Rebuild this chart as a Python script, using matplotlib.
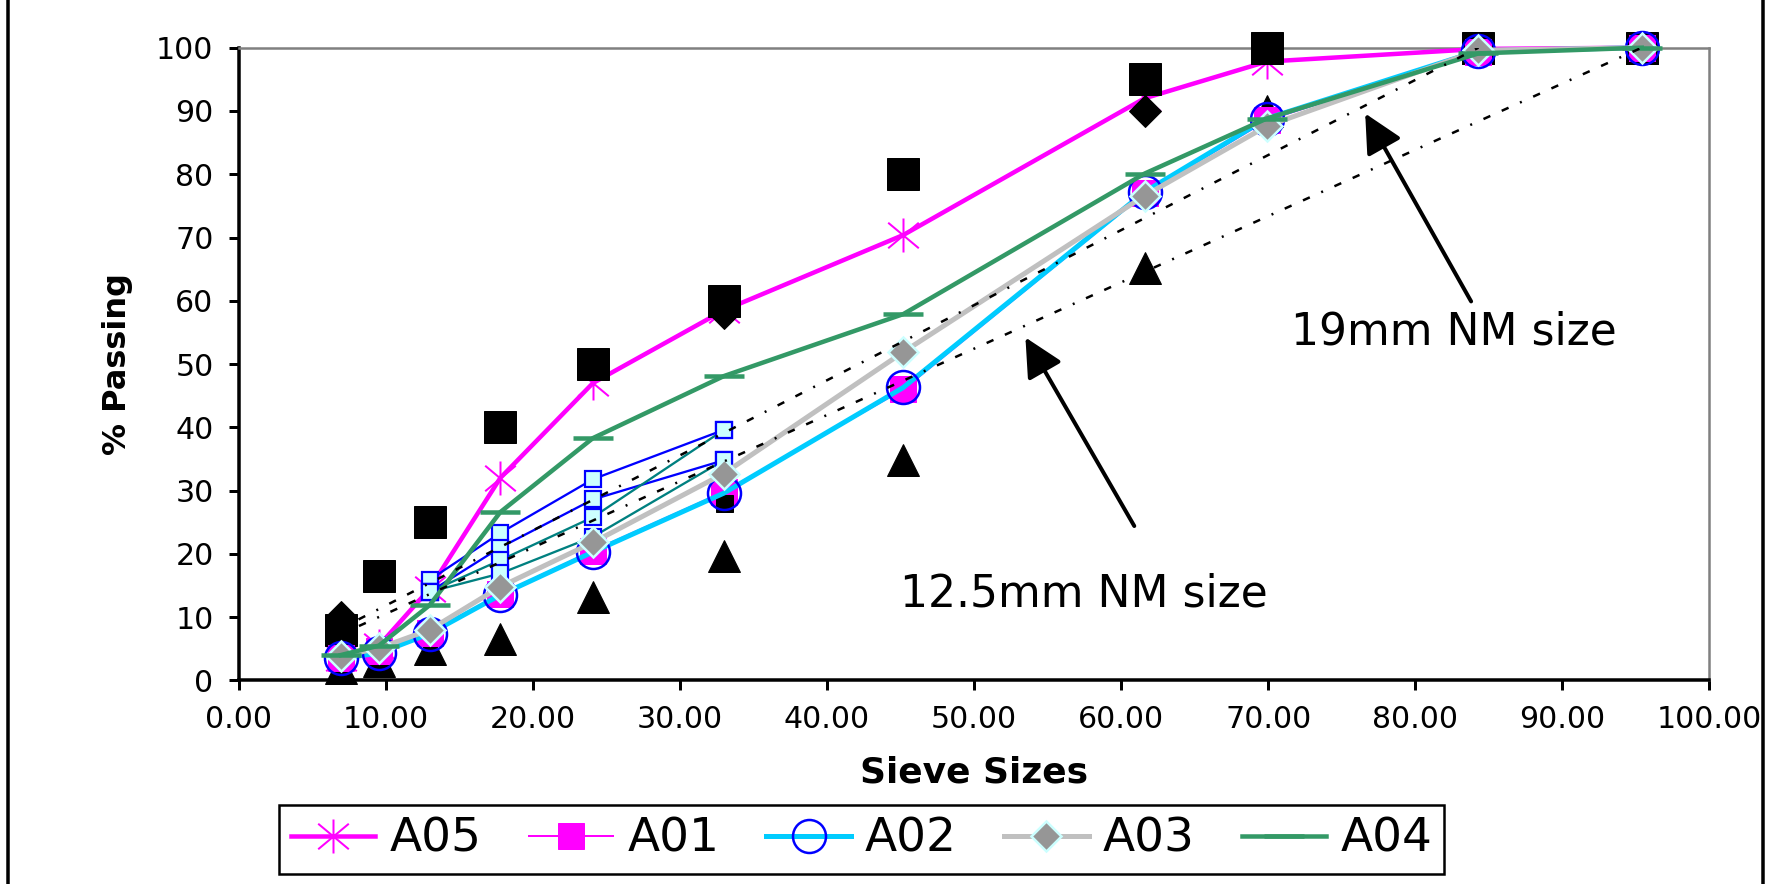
import matplotlib
matplotlib.use("Agg")
import matplotlib.pyplot as plt
from matplotlib.path import Path
from matplotlib.lines import Line2D

# sieve positions on the 0.45-power x axis
sieve_x = [6.95, 9.55, 13.0, 17.8, 24.1, 33.0, 45.2, 61.6, 69.9, 84.3, 95.4]

# gradations (% passing)
a05 = [3.5, 5.5, 14.5, 32.0, 47.0, 58.5, 70.4, 92.0, 97.8, 99.8, 100]
a01 = [3.6, 4.6, 7.5, 13.6, 20.5, 29.8, 46.0, 77.0, 88.5, 99.3, 100]
a02 = [3.5, 4.3, 7.4, 13.5, 20.3, 29.6, 46.3, 77.2, 88.8, 99.5, 100]
a03 = [3.8, 5.1, 8.0, 14.8, 21.8, 32.7, 51.9, 76.6, 87.6, 99.6, 100]
a04 = [4.0, 5.5, 11.9, 26.6, 38.3, 48.1, 57.9, 80.1, 88.8, 99.1, 100]

# specification band limits
spec_upper = [8, 16.5, 25, 40, 50, 60, 80, 95, 100, 100, 100]
spec_lower = [2, 3, 5, 6.6, 13.2, 19.7, 34.8, 65.2, 90, 100, 100]

# control points
ctrl_hi_x = [6.95, 33.0, 61.6]
ctrl_hi = [10, 58, 90]
ctrl_lo_x = [33.0]
ctrl_lo = [28]

# restricted zones
rz_x = [13.0, 17.8, 24.1, 33.0]
rz1_hi = [15.9, 23.3, 31.8, 39.6]
rz1_lo = [14.0, 19.0, 25.8, 39.6]
rz2_hi = [14.0, 21.0, 28.6, 34.8]
rz2_lo = [14.0, 16.9, 22.7, 34.8]

# maximum density lines
mdl_125_x = [6.95, 84.3]
mdl_125 = [8.2, 100]
mdl_19_x = [6.95, 95.4]
mdl_19 = [7.3, 100]

W, H = 1781, 884
fig = plt.figure(figsize=(W / 72, H / 72), dpi=72)
fig.patch.set_facecolor("white")
ax = fig.add_axes([238.5 / W, 1 - 680.4 / H, (1709.4 - 238.5) / W, (680.4 - 47.7) / H])

# asterisk marker like the spreadsheet star
star = Path([(0, -1), (0, 1), (-0.9, -0.75), (0.9, 0.75), (-0.9, 0.75), (0.9, -0.75)],
            [Path.MOVETO, Path.LINETO] * 3)

dash = (0, (3, 5, 3, 5, 0.8, 5))

l05, = ax.plot(sieve_x, a05, color="#FF00FF", lw=4.5, marker=star, ms=34, mew=2,
               mfc="none", mec="#FF00FF", zorder=3, clip_on=False, label="A05")

ax.plot(sieve_x, spec_upper, "s", color="black", ms=32, zorder=4, clip_on=False)
ax.plot(sieve_x, spec_lower, "^", color="black", ms=32, zorder=4, clip_on=False)
ax.plot(ctrl_hi_x, ctrl_hi, "D", color="black", ms=23, zorder=4, clip_on=False)

l01, = ax.plot(sieve_x, a01, color="#FF00FF", lw=2, marker="s", ms=26, mfc="#FF00FF",
               mec="#FF00FF", zorder=5, clip_on=False, label="A01")
ax.plot(ctrl_lo_x, ctrl_lo, "s", color="black", ms=17, zorder=5.5)

for ys, c in [(rz1_hi, "#0000FF"), (rz2_hi, "#0000FF"), (rz1_lo, "#008080"), (rz2_lo, "#008080")]:
    ax.plot(rz_x, ys, color=c, lw=2.3, marker="s", ms=16, mfc="#CCFFFF", mec="#0000FF",
            mew=2.2, zorder=5.6)

l02, = ax.plot(sieve_x, a02, color="#00CCFF", lw=5, marker="o", ms=33, mfc="none",
               mec="#0000FF", mew=2.5, zorder=6, clip_on=False, label="A02")
l03, = ax.plot(sieve_x, a03, color="#C0C0C0", lw=5, marker="D", ms=21, mfc="#969696",
               mec="#CCFFFF", mew=2.5, zorder=7, clip_on=False, label="A03")
l04, = ax.plot(sieve_x, a04, color="#339966", lw=4.5, marker="_", ms=40, mew=4.5,
               zorder=8, clip_on=False, label="A04")

ax.plot(mdl_125_x, mdl_125, color="black", lw=2.5, linestyle=dash, zorder=9)
ax.plot(mdl_19_x, mdl_19, color="black", lw=2.5, linestyle=dash, zorder=9)

arrow = dict(arrowstyle="-|>,head_length=1.1,head_width=0.55", lw=4, color="black",
             mutation_scale=30, shrinkA=0, shrinkB=0)
ax.annotate("", xy=(53.5, 54.2), xytext=(60.9, 24.4), arrowprops=arrow, zorder=10)
ax.annotate("", xy=(76.6, 89.6), xytext=(83.8, 59.9), arrowprops=arrow, zorder=10)
ax.text(57.5, 13.7, "12.5mm NM size", ha="center", va="center", fontsize=44, zorder=10)
ax.text(82.6, 55.0, "19mm NM size", ha="center", va="center", fontsize=44, zorder=10)

ax.set_xlim(0, 100)
ax.set_ylim(0, 100)
ax.set_xticks(range(0, 101, 10))
ax.set_xticklabels([f"{v:.2f}" for v in range(0, 101, 10)])
ax.set_yticks(range(0, 101, 10))
ax.tick_params(direction="out", length=10, width=3, labelsize=30, pad=15, color="black")

for s in ["left", "bottom"]:
    ax.spines[s].set_color("black")
    ax.spines[s].set_linewidth(3.5)
for s in ["top", "right"]:
    ax.spines[s].set_color("#808080")
    ax.spines[s].set_linewidth(2.5)

ax.set_xlabel("Sieve Sizes", fontsize=36, fontweight="bold", va="top")
ax.xaxis.set_label_coords(0.5, -0.118)
ax.set_ylabel("% Passing", fontsize=32, fontweight="bold")
ax.yaxis.set_label_coords(-0.0717, 0.5)

leg = fig.legend([l05, l01, l02, l03, l04], ["A05", "A01", "A02", "A03", "A04"],
                 loc="center", bbox_to_anchor=(861.5 / W, 1 - 839.5 / H), ncol=5,
                 fontsize=47, frameon=True, fancybox=False, edgecolor="black",
                 handlelength=1.8, handletextpad=0.3, columnspacing=1.0,
                 borderpad=0.25, framealpha=1)
leg.get_frame().set_linewidth(2.5)

# outer chart-area border lines
for xf in [8 / W, 1763 / W]:
    fig.add_artist(Line2D([xf, xf], [0, 1], color="black", lw=3.5, transform=fig.transFigure))

fig.savefig("out.png", dpi=72, facecolor="white")
